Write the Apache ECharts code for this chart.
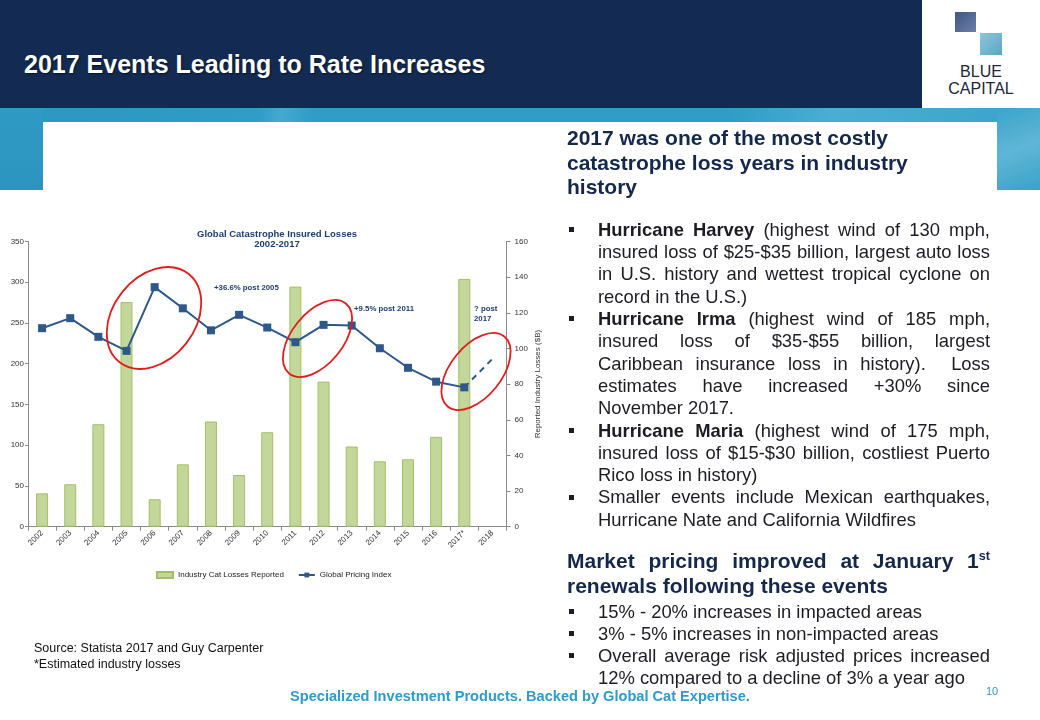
<!DOCTYPE html>
<html>
<head>
<meta charset="utf-8">
<script src="https://cdn.jsdelivr.net/npm/echarts@6/dist/echarts.min.js"></script>
<style>
  html, body { margin:0; padding:0; width:1040px; height:720px; overflow:hidden; background:#fff;
    font-family: "Liberation Sans", Arial, sans-serif; }
  .abs { position:absolute; }
  #header { left:0; top:0; width:922px; height:108px; background:#132b52; }
  #logoBox { left:922px; top:0; width:118px; height:108px; background:#fff; }
  #band { left:0; top:108px; width:1040px; height:14px;
    background: linear-gradient(100deg, #2c97c1 0%, #2f9dc6 25%, #45a9cf 27%, #2f9dc6 30%, #2f9dc6 70%, #4aaed2 80%, #3aa3ca 100%); }
  #leftStrip { left:0; top:108px; width:43px; height:82px; background: linear-gradient(180deg,#2f9ac3,#2c95bf); }
  #rightStrip { left:997px; top:108px; width:43px; height:82px; background: linear-gradient(160deg,#3ba4cb,#5fb6d6 50%,#3aa2c9); }
  #title { left:24px; top:49px; line-height:30px; font-size:25px; font-weight:bold; color:#fff;
    text-shadow: 1px 1px 2px rgba(0,0,0,0.6); white-space:nowrap; }
  #sq1 { left:955px; top:12px; width:21px; height:20px; background: linear-gradient(135deg,#3f5684,#6d80a6); }
  #sq2 { left:980px; top:33px; width:22px; height:22px; background: linear-gradient(135deg,#8cc7dc,#5aa6c4); }
  #logoText { left:922px; top:63px; width:118px; text-align:center; font-size:16px; line-height:17px; color:#23263a; }
  #chart { left:0; top:0; width:1040px; height:720px; z-index:2; }
  .txt { z-index:3; color:#1c1c24; }
  .h { font-size:21px; font-weight:bold; color:#14284b; line-height:24.6px; }
  .b { font-size:18.4px; line-height:22.3px; }
  .b2 { font-size:18.4px; line-height:22px; }
  .ln { position:relative; white-space:normal; }
  .j { text-align:justify; text-align-last:justify; }
  .bul::before { content:""; position:absolute; left:-29px; top:50%; margin-top:-3px; width:5px; height:5px; background:#1c1c24; }
  sup { font-size:0.6em; line-height:0; vertical-align: 0.65em; }
  #src { left:34px; top:640px; font-size:12.5px; line-height:16px; color:#111; z-index:3; }
  #footer { left:290px; top:688px; font-size:14.6px; font-weight:bold; color:#2f9bc8; z-index:3; white-space:nowrap; }
  #pnum { left:986px; top:685px; font-size:11px; color:#2f9bc8; z-index:3; }
</style>
</head>
<body>
<div id="header" class="abs"></div>
<div id="logoBox" class="abs"></div>
<div id="band" class="abs"></div>
<div id="leftStrip" class="abs"></div>
<div id="rightStrip" class="abs"></div>
<div id="title" class="abs">2017 Events Leading to Rate Increases</div>
<div id="sq1" class="abs"></div>
<div id="sq2" class="abs"></div>
<div id="logoText" class="abs">BLUE<br>CAPITAL</div>

<div id="chart" class="abs"></div>

<div class="abs txt h" style="left:567px; top:126px; width:423px;">
  <div>2017 was one of the most costly</div>
  <div>catastrophe loss years in industry</div>
  <div>history</div>
</div>

<div class="abs txt b" style="left:598px; top:218.9px; width:392px;">
  <div class="ln j bul"><b>Hurricane Harvey</b> (highest wind of 130 mph,</div>
  <div class="ln j">insured loss of $25-$35 billion, largest auto loss</div>
  <div class="ln j">in U.S. history and wettest tropical cyclone on</div>
  <div class="ln">record in the U.S.)</div>
  <div class="ln j bul"><b>Hurricane Irma</b> (highest wind of 185 mph,</div>
  <div class="ln j">insured loss of $35-$55 billion, largest</div>
  <div class="ln j">Caribbean insurance loss in history).&nbsp; Loss</div>
  <div class="ln j">estimates have increased +30% since</div>
  <div class="ln">November 2017.</div>
  <div class="ln j bul"><b>Hurricane Maria</b> (highest wind of 175 mph,</div>
  <div class="ln j">insured loss of $15-$30 billion, costliest Puerto</div>
  <div class="ln">Rico loss in history)</div>
  <div class="ln j bul">Smaller events include Mexican earthquakes,</div>
  <div class="ln">Hurricane Nate and California Wildfires</div>
</div>

<div class="abs txt h" style="left:567px; top:549.4px; width:423px;">
  <div class="j">Market pricing improved at January 1<sup>st</sup></div>
  <div>renewals following these events</div>
</div>

<div class="abs txt b2" style="left:598px; top:600.6px; width:392px;">
  <div class="ln bul">15% - 20% increases in impacted areas</div>
  <div class="ln bul">3% - 5% increases in non-impacted areas</div>
  <div class="ln j bul">Overall average risk adjusted prices increased</div>
  <div class="ln">12% compared to a decline of 3% a year ago</div>
</div>

<div id="src" class="abs">Source: Statista 2017 and Guy Carpenter<br>*Estimated industry losses</div>
<div id="footer" class="abs">Specialized Investment Products. Backed by Global Cat Expertise.</div>
<div id="pnum" class="abs">10</div>

<script>
// ---- Data ----
const years = ['2002','2003','2004','2005','2006','2007','2008','2009','2010','2011','2012','2013','2014','2015','2016','2017*','2018'];
const catLosses = [18.7, 23.8, 57.5, 126, 15.4, 35, 59, 29, 53, 134.7, 81.4, 45, 36.7, 37.8, 50.4, 139, null];
const pricingIndex = [243.6, 255.9, 233, 215.8, 294, 268, 241, 260, 244.4, 226.4, 247.7, 246.8, 219, 195, 178, 171, null];
const pricingProjection = [null, null, null, null, null, null, null, null, null, null, null, null, null, null, null, 171, 206];
const leftAxis = { min: 0, max: 350, interval: 50 };
const rightAxis = { min: 0, max: 160, interval: 20 };
const seriesNames = ['Industry Cat Losses Reported', 'Global Pricing Index'];
const chartTitle = 'Global Catastrophe Insured Losses\n2002-2017';
const rightAxisName = 'Reported Industry Losses ($B)';
const notes = ['+36.6% post 2005', '+9.5% post 2011', '? post\n2017'];

const FONT = '"Liberation Sans", Arial, sans-serif';
const navy = '#1f3d6e';
const lineColor = '#2d5889';
const axisGray = '#8a8a8a';

const chart = echarts.init(document.getElementById('chart'), null, { renderer: 'canvas' });
const axisCommon = {
  axisLine: { show: true, lineStyle: { color: axisGray, width: 1 } },
  splitLine: { show: false },
  axisLabel: { color: '#333', fontSize: 8, fontFamily: FONT },
};
const red = '#e01d1d';
chart.setOption({
  animation: false,
  textStyle: { fontFamily: FONT },
  title: {
    text: chartTitle, left: 272, top: 224, textAlign: 'center',
    textStyle: { fontSize: 9.5, fontWeight: 'bold', color: navy, lineHeight: 10.5, fontFamily: FONT }
  },
  legend: {
    left: 151, top: 566, itemWidth: 16, itemHeight: 6, itemGap: 14,
    textStyle: { fontSize: 8, color: '#222', fontFamily: FONT },
    data: [{ name: seriesNames[0], icon: 'rect' }, { name: seriesNames[1] }]
  },
  grid: { left: 28, right: 533.5, top: 241.5, bottom: 193.3, containLabel: false, outerBoundsMode: 'none' },
  xAxis: {
    type: 'category', data: years, boundaryGap: true,
    axisLine: { lineStyle: { color: axisGray } },
    axisTick: { show: true, alignWithLabel: false, length: 4, lineStyle: { color: axisGray } },
    axisLabel: { rotate: 45, fontSize: 8, color: '#333', margin: 5, interval: 0, fontFamily: FONT }
  },
  yAxis: [
    Object.assign({}, axisCommon, {
      type: 'value', position: 'left', min: leftAxis.min, max: leftAxis.max, interval: leftAxis.interval,
      axisTick: { show: true, length: 3, lineStyle: { color: axisGray } },
      axisLabel: { color: '#333', fontSize: 8, margin: 4, fontFamily: FONT }
    }),
    Object.assign({}, axisCommon, {
      type: 'value', position: 'right', min: rightAxis.min, max: rightAxis.max, interval: rightAxis.interval,
      name: rightAxisName, nameLocation: 'middle', nameRotate: 90, nameGap: 27,
      nameTextStyle: { fontSize: 8, color: '#333', fontFamily: FONT },
      axisTick: { show: true, length: 4, lineStyle: { color: axisGray } },
      axisLabel: { color: '#333', fontSize: 8, margin: 8, fontFamily: FONT }
    })
  ],
  series: [
    {
      name: seriesNames[0], type: 'bar', yAxisIndex: 1, data: catLosses, barWidth: 12,
      itemStyle: { color: '#c4d79b', borderColor: '#a3bf6a', borderWidth: 1 }, z: 1
    },
    {
      name: seriesNames[1], type: 'line', yAxisIndex: 0, data: pricingIndex,
      symbol: 'rect', symbolSize: 8, showAllSymbol: true,
      lineStyle: { color: lineColor, width: 2 }, itemStyle: { color: lineColor }, z: 3
    },
    {
      name: 'Projection', type: 'line', yAxisIndex: 0, data: pricingProjection,
      symbol: 'none', lineStyle: { color: lineColor, width: 2, type: [6, 5] }, z: 3
    }
  ],
  graphic: [
    { type: 'ellipse', x: 154, y: 318, rotation: 0.91, shape: { cx: 0, cy: 0, rx: 56, ry: 41 },
      style: { fill: 'none', stroke: red, lineWidth: 1.8 }, z: 10 },
    { type: 'ellipse', x: 317.5, y: 338.5, rotation: 0.89, shape: { cx: 0, cy: 0, rx: 45, ry: 25.5 },
      style: { fill: 'none', stroke: red, lineWidth: 1.8 }, z: 10 },
    { type: 'ellipse', x: 476, y: 371.5, rotation: 0.89, shape: { cx: 0, cy: 0, rx: 45, ry: 25.5 },
      style: { fill: 'none', stroke: red, lineWidth: 1.8 }, z: 10 },
    { type: 'text', x: 214, y: 287.5, z: 11,
      style: { text: notes[0], fill: navy, font: 'bold 7.8px ' + FONT, textVerticalAlign: 'middle', verticalAlign: 'middle' } },
    { type: 'text', x: 354, y: 309, z: 11,
      style: { text: notes[1], fill: navy, font: 'bold 7.8px ' + FONT, textVerticalAlign: 'middle', verticalAlign: 'middle' } },
    { type: 'text', x: 474, y: 304, z: 11,
      style: { text: notes[2], fill: navy, font: 'bold 7.8px ' + FONT, lineHeight: 9.6, verticalAlign: 'top' } }
  ]
});
</script>
</body>
</html>
